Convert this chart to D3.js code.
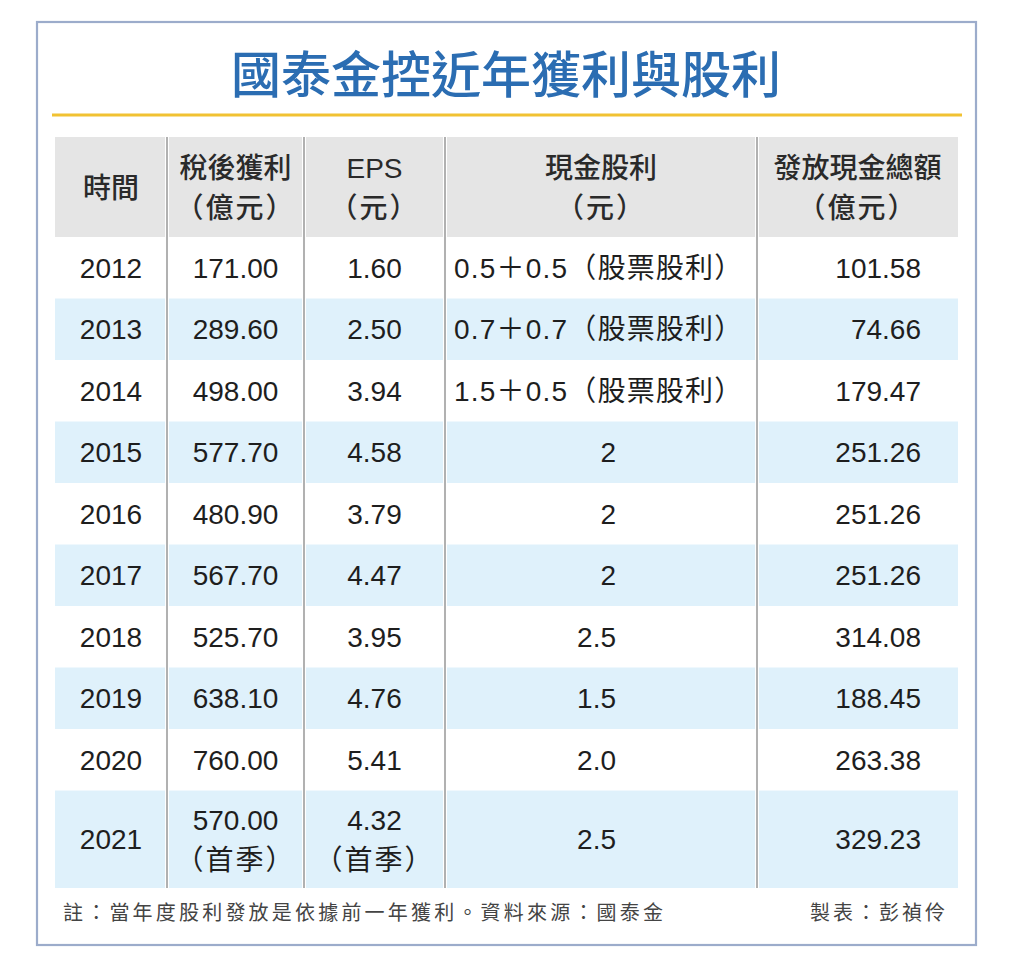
<!DOCTYPE html>
<html>
<head>
<meta charset="utf-8">
<script src="https://cdn.jsdelivr.net/npm/d3@7"></script>
<style>
  html, body { margin: 0; padding: 0; background: #fff; }
  svg { display: block; }
</style>
</head>
<body>
<div id="chart"></div>
<script>

// table data
var years = ["2012","2013","2014","2015","2016","2017","2018","2019","2020","2021"]
var profit = [171.00, 289.60, 498.00, 577.70, 480.90, 567.70, 525.70, 638.10, 760.00, 570.00]
var eps = [1.60, 2.50, 3.94, 4.58, 3.79, 4.47, 3.95, 4.76, 5.41, 4.32]
var cashDividend = ["0.5＋0.5（股票股利）","0.7＋0.7（股票股利）","1.5＋0.5（股票股利）","2","2","2","2.5","1.5","2.0","2.5"]
var totalCash = [101.58, 74.66, 179.47, 251.26, 251.26, 251.26, 314.08, 188.45, 263.38, 329.23]
var rowNotes = ["","","","","","","","","","（首季）"]
var headers = [["時間"],["稅後獲利","（億元）"],["EPS","（元）"],["現金股利","（元）"],["發放現金總額","（億元）"]]

var title = "國泰金控近年獲利與股利"
var footNote = "註：當年度股利發放是依據前一年獲利。資料來源：國泰金"
var credit = "製表：彭禎伶"

const numberFormat = d3.format('.2f')

var W = 1024, H = 976
var font = "'Liberation Sans', Arial, 'Noto Sans CJK TC', sans-serif"
var cjk = "'Noto Sans CJK TC', 'Noto Sans CJK SC', sans-serif"

var svg = d3.select("#chart").append("svg")
    .attr("width", W)
    .attr("height", H)

// outer frame
svg.append("rect")
    .attr("x", 37).attr("y", 22)
    .attr("width", 939).attr("height", 923)
    .attr("fill", "#fff")
    .attr("stroke", "#9caccb")
    .attr("stroke-width", 2.2)

svg.append("text")
    .attr("x", 506).attr("y", 93)
    .attr("text-anchor", "middle")
    .attr("font-family", cjk)
    .attr("font-size", 50)
    .attr("font-weight", 500)
    .attr("fill", "#2b6db2")
    .text(title)

svg.append("line")
    .attr("x1", 52).attr("x2", 962)
    .attr("y1", 115).attr("y2", 115)
    .attr("stroke", "#f1c232")
    .attr("stroke-width", 3)

// columns
var colEdges = [55,167,304,445,757,958]
var headTop = 137, bodyTop = 237, bodyBottom = 888

// row positions: taller last row because of the notes
var units = rowNotes.map(n => n ? 1.585 : 1)
var cum = [0]
units.forEach((u,i) => cum.push(cum[i] + u))
var y = d3.scaleLinear().domain([0, cum[cum.length-1]]).range([bodyTop, bodyBottom])

var rows = years.map((yr,i) => ({
    i: i,
    year: yr,
    profit: profit[i],
    eps: eps[i],
    cash: cashDividend[i],
    total: totalCash[i],
    note: rowNotes[i],
    y0: y(cum[i]),
    y1: y(cum[i+1])
}))

function cellX0(c) { return colEdges[c] + (c == 0 ? 0 : 2) }
function cellX1(c) { return colEdges[c+1] - (c == colEdges.length-2 ? 0 : 2) }

// header background
svg.append("g").selectAll("rect")
    .data(headers)
    .join("rect")
    .attr("x", (d,c) => cellX0(c))
    .attr("width", (d,c) => cellX1(c) - cellX0(c))
    .attr("y", headTop)
    .attr("height", bodyTop - headTop)
    .attr("fill", "#e5e5e5")

// striped rows
var bands = svg.append("g")
rows.filter(r => r.i % 2 == 1).forEach(r => {
    bands.selectAll(null)
        .data(headers)
        .join("rect")
        .attr("x", (d,c) => cellX0(c))
        .attr("width", (d,c) => cellX1(c) - cellX0(c))
        .attr("y", r.y0)
        .attr("height", r.y1 - r.y0)
        .attr("fill", "#dff1fb")
})

// dividers
svg.append("g").selectAll("line")
    .data(colEdges.slice(1, -1))
    .join("line")
    .attr("x1", d => d).attr("x2", d => d)
    .attr("y1", headTop).attr("y2", bodyBottom)
    .attr("stroke", "#7d7d7d")
    .attr("stroke-width", 1.2)

// header labels
var hd = svg.append("g")
    .attr("font-family", font)
    .attr("font-size", 28)
    .attr("font-weight", 500)
    .attr("fill", "#2a2a2a")
    .attr("text-anchor", "middle")

headers.forEach((lines, c) => {
    var cx = c == 0 ? 111 : (colEdges[c] + colEdges[c+1]) / 2
    var base = lines.length == 1 ? 198 : 178
    lines.forEach((t, k) => {
        hd.append("text")
            .attr("x", cx)
            .attr("y", base + k * 40)
            .attr("letter-spacing", t.startsWith("（") ? 2 : 0)
            .text(t)
    })
})

// body cells
var body = svg.append("g")
    .attr("font-family", font)
    .attr("font-size", 28)
    .attr("fill", "#1e1e1e")

var rowG = body.selectAll("g")
    .data(rows)
    .join("g")

function mid(d) { return (d.y0 + d.y1) / 2 }

rowG.append("text")
    .attr("x", 111)
    .attr("y", d => mid(d) + 10)
    .attr("text-anchor", "middle")
    .text(d => d.year)

// profit + eps, with note line under when present
rowG.append("text")
    .attr("x", 235.5)
    .attr("y", d => d.note ? mid(d) - 9 : mid(d) + 10)
    .attr("text-anchor", "middle")
    .text(d => numberFormat(d.profit))

rowG.append("text")
    .attr("x", 374.5)
    .attr("y", d => d.note ? mid(d) - 9 : mid(d) + 10)
    .attr("text-anchor", "middle")
    .text(d => numberFormat(d.eps))

rowG.filter(d => d.note).each(function(d) {
    var g = d3.select(this)
    ;[235.5, 374.5].forEach(x => {
        g.append("text")
            .attr("x", x)
            .attr("y", mid(d) + 31)
            .attr("text-anchor", "middle")
            .attr("letter-spacing", 2)
            .text(d.note)
    })
})

rowG.append("text")
    .attr("x", d => d.cash.length > 3 ? 454 : 616)
    .attr("y", d => mid(d) + 10)
    .attr("text-anchor", d => d.cash.length > 3 ? "start" : "end")
    .attr("letter-spacing", d => d.cash.length > 3 ? 1.2 : 0)
    .text(d => d.cash)

rowG.append("text")
    .attr("x", 921)
    .attr("y", d => mid(d) + 10)
    .attr("text-anchor", "end")
    .text(d => numberFormat(d.total))

// footer
svg.append("text")
    .attr("x", 63).attr("y", 920)
    .attr("font-family", cjk)
    .attr("font-size", 20)
    .attr("fill", "#444")
    .attr("textLength", 600)
    .attr("lengthAdjust", "spacing")
    .text(footNote)

svg.append("text")
    .attr("x", 948).attr("y", 920)
    .attr("text-anchor", "end")
    .attr("font-family", cjk)
    .attr("font-size", 20)
    .attr("fill", "#444")
    .attr("letter-spacing", 3)
    .text(credit)

</script>
</body>
</html>
